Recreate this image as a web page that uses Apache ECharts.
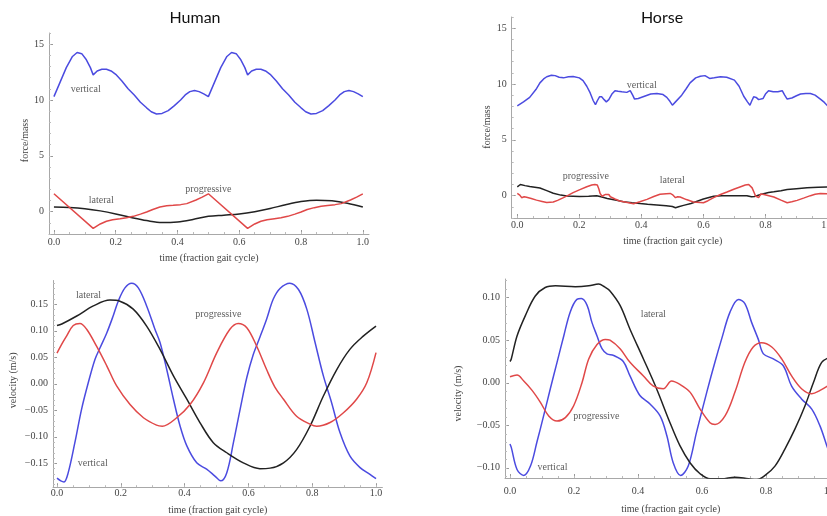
<!DOCTYPE html>
<html><head><meta charset="utf-8">
<script src="https://cdn.jsdelivr.net/npm/echarts@6/dist/echarts.min.js"></script>
<style>html,body{margin:0;padding:0;background:#fff}#c{width:827px;height:516px}</style>
</head><body><div id="c"></div>
<script>
// ---------- DATA (time fraction, value) ----------
const humanForceVertical = [[0,10.3],[0.02,11.6],[0.04,12.9],[0.06,13.9],[0.075,14.25],[0.09,14.15],[0.105,13.6],[0.118,12.9],[0.127,12.25],[0.14,12.6],[0.155,12.75],[0.17,12.75],[0.185,12.6],[0.2,12.3],[0.22,11.7],[0.24,11.0],[0.26,10.45],[0.28,9.8],[0.3,9.3],[0.315,8.95],[0.332,8.75],[0.35,8.8],[0.37,9.05],[0.39,9.5],[0.41,10.0],[0.425,10.45],[0.44,10.75],[0.455,10.85],[0.47,10.75],[0.485,10.55],[0.5,10.3],[0.52,11.6],[0.54,12.9],[0.56,13.9],[0.575,14.25],[0.59,14.15],[0.605,13.6],[0.618,12.9],[0.627,12.25],[0.64,12.6],[0.655,12.75],[0.67,12.75],[0.685,12.6],[0.7,12.3],[0.72,11.7],[0.74,11.0],[0.76,10.45],[0.78,9.8],[0.8,9.3],[0.815,8.95],[0.832,8.75],[0.85,8.8],[0.87,9.05],[0.89,9.5],[0.91,10.0],[0.925,10.45],[0.94,10.75],[0.955,10.85],[0.97,10.75],[0.985,10.55],[1.0,10.3]];
const humanForceLateral = [[0,0.42],[0.05,0.38],[0.1,0.27],[0.15,0.07],[0.2,-0.2],[0.25,-0.52],[0.3,-0.8],[0.35,-0.98],[0.4,-0.92],[0.45,-0.7],[0.5,-0.42],[0.55,-0.31],[0.6,-0.2],[0.65,0.0],[0.7,0.28],[0.75,0.62],[0.8,0.9],[0.85,1.03],[0.9,0.97],[0.95,0.75],[1.0,0.42]];
const humanForceProgressive = [[0,1.6],[0.127,-1.5],[0.15,-1.1],[0.17,-0.86],[0.19,-0.72],[0.214,-0.63],[0.235,-0.55],[0.257,-0.42],[0.28,-0.22],[0.3,-0.03],[0.32,0.2],[0.343,0.42],[0.365,0.52],[0.386,0.57],[0.41,0.63],[0.43,0.72],[0.46,1.05],[0.48,1.3],[0.5,1.6],[0.627,-1.5],[0.65,-1.1],[0.67,-0.86],[0.69,-0.72],[0.714,-0.63],[0.735,-0.55],[0.757,-0.42],[0.78,-0.22],[0.8,-0.03],[0.82,0.2],[0.843,0.36],[0.865,0.48],[0.886,0.56],[0.91,0.63],[0.93,0.72],[0.96,1.05],[0.98,1.3],[1.0,1.6]];

const horseForceVertical = [[0,8.05],[0.02,8.4],[0.04,8.8],[0.06,9.5],[0.073,10.1],[0.085,10.45],[0.095,10.65],[0.11,10.78],[0.122,10.75],[0.135,10.6],[0.149,10.55],[0.165,10.65],[0.18,10.68],[0.2,10.55],[0.212,10.3],[0.224,9.8],[0.235,9.2],[0.245,8.5],[0.252,8.15],[0.258,8.5],[0.265,8.85],[0.272,8.85],[0.28,8.6],[0.287,8.4],[0.295,8.6],[0.305,9.1],[0.315,9.4],[0.325,9.35],[0.337,9.3],[0.353,9.25],[0.364,9.4],[0.372,9.0],[0.378,8.65],[0.39,8.7],[0.41,8.9],[0.43,9.1],[0.45,9.15],[0.47,9.05],[0.482,8.8],[0.492,8.45],[0.5,8.1],[0.51,8.4],[0.53,9.0],[0.545,9.6],[0.557,10.1],[0.575,10.55],[0.59,10.7],[0.605,10.75],[0.62,10.5],[0.635,10.55],[0.655,10.65],[0.675,10.6],[0.7,10.35],[0.715,9.8],[0.73,8.9],[0.742,8.4],[0.75,8.1],[0.756,8.5],[0.762,8.85],[0.77,8.8],[0.778,8.6],[0.784,8.45],[0.792,8.7],[0.8,9.1],[0.81,9.4],[0.825,9.3],[0.84,9.3],[0.854,9.4],[0.862,9.0],[0.87,8.65],[0.885,8.75],[0.9,8.95],[0.913,9.1],[0.93,9.15],[0.945,9.15],[0.96,9.0],[0.977,8.65],[0.99,8.35],[1.0,8.05]];
const horseForceLateral = [[0,0.78],[0.01,1.0],[0.025,0.9],[0.04,0.82],[0.073,0.68],[0.095,0.45],[0.116,0.22],[0.14,0.05],[0.16,-0.03],[0.2,-0.08],[0.23,-0.05],[0.256,0.0],[0.27,-0.1],[0.29,-0.25],[0.32,-0.42],[0.342,-0.55],[0.37,-0.63],[0.396,-0.7],[0.42,-0.76],[0.45,-0.83],[0.48,-0.9],[0.5,-0.97],[0.51,-1.08],[0.52,-1.0],[0.536,-0.87],[0.56,-0.7],[0.58,-0.5],[0.6,-0.3],[0.633,-0.05],[0.66,0.0],[0.7,0.0],[0.74,0.0],[0.755,-0.1],[0.765,-0.08],[0.784,0.1],[0.81,0.28],[0.827,0.35],[0.85,0.45],[0.87,0.55],[0.9,0.63],[0.934,0.7],[0.97,0.75],[1.0,0.78]];
const horseForceProgressive = [[0,0.2],[0.008,0.05],[0.014,-0.18],[0.022,-0.1],[0.03,-0.15],[0.045,-0.25],[0.062,-0.4],[0.08,-0.52],[0.095,-0.62],[0.116,-0.57],[0.13,-0.42],[0.149,-0.18],[0.165,0.05],[0.18,0.27],[0.2,0.52],[0.224,0.8],[0.24,0.95],[0.25,1.0],[0.258,0.95],[0.263,0.6],[0.267,0.2],[0.273,-0.05],[0.278,-0.2],[0.283,0.1],[0.288,0.27],[0.295,0.1],[0.3,-0.1],[0.315,-0.3],[0.33,-0.48],[0.355,-0.62],[0.375,-0.72],[0.395,-0.55],[0.418,-0.33],[0.44,-0.08],[0.46,0.12],[0.48,0.18],[0.493,0.2],[0.5,0.1],[0.504,-0.03],[0.51,-0.18],[0.517,-0.1],[0.525,-0.12],[0.545,-0.35],[0.568,-0.57],[0.6,-0.63],[0.615,-0.45],[0.633,-0.18],[0.655,0.1],[0.676,0.33],[0.7,0.6],[0.72,0.8],[0.735,0.95],[0.746,1.0],[0.752,0.9],[0.757,0.7],[0.763,0.3],[0.768,-0.03],[0.773,-0.15],[0.778,-0.18],[0.785,0.15],[0.79,0.27],[0.795,0.1],[0.8,-0.05],[0.827,-0.12],[0.85,-0.4],[0.87,-0.63],[0.885,-0.55],[0.902,-0.42],[0.925,-0.2],[0.945,0.0],[0.96,0.12],[0.977,0.2],[1.0,0.18]];

const humanVelVertical = [[0,-0.178],[0.012,-0.183],[0.022,-0.185],[0.035,-0.168],[0.056,-0.111],[0.077,-0.048],[0.098,0.002],[0.119,0.046],[0.135,0.068],[0.156,0.096],[0.176,0.128],[0.192,0.156],[0.213,0.181],[0.234,0.19],[0.255,0.181],[0.281,0.147],[0.307,0.103],[0.323,0.078],[0.344,0.027],[0.365,-0.029],[0.386,-0.08],[0.407,-0.117],[0.438,-0.149],[0.469,-0.161],[0.495,-0.174],[0.513,-0.183],[0.532,-0.168],[0.553,-0.111],[0.574,-0.048],[0.595,0.012],[0.615,0.055],[0.636,0.088],[0.657,0.122],[0.678,0.16],[0.699,0.18],[0.73,0.19],[0.757,0.178],[0.783,0.141],[0.809,0.078],[0.835,0.015],[0.861,-0.036],[0.887,-0.092],[0.918,-0.136],[0.95,-0.158],[0.981,-0.171],[1.0,-0.179]];
const humanVelLateral = [[0,0.11],[0.015,0.113],[0.062,0.128],[0.114,0.147],[0.166,0.158],[0.197,0.156],[0.239,0.141],[0.281,0.109],[0.323,0.065],[0.365,0.015],[0.407,-0.029],[0.448,-0.073],[0.49,-0.111],[0.532,-0.13],[0.584,-0.149],[0.636,-0.16],[0.668,-0.159],[0.71,-0.149],[0.751,-0.124],[0.793,-0.08],[0.835,-0.023],[0.877,0.027],[0.918,0.065],[0.96,0.09],[1.0,0.109]];
const humanVelProgressive = [[0,0.058],[0.015,0.075],[0.03,0.09],[0.051,0.11],[0.072,0.114],[0.093,0.103],[0.124,0.071],[0.156,0.034],[0.187,-0.004],[0.229,-0.039],[0.271,-0.064],[0.312,-0.078],[0.33,-0.08],[0.375,-0.064],[0.417,-0.039],[0.459,0.002],[0.501,0.059],[0.542,0.103],[0.568,0.114],[0.595,0.106],[0.626,0.071],[0.657,0.027],[0.683,-0.006],[0.71,-0.029],[0.751,-0.061],[0.793,-0.076],[0.814,-0.08],[0.856,-0.073],[0.897,-0.055],[0.939,-0.029],[0.971,0.002],[1.0,0.059]];

const horseVelVertical = [[0,-0.072],[0.004,-0.076],[0.022,-0.102],[0.043,-0.109],[0.064,-0.098],[0.084,-0.07],[0.105,-0.039],[0.126,-0.007],[0.147,0.024],[0.168,0.055],[0.188,0.083],[0.209,0.098],[0.223,0.099],[0.241,0.091],[0.256,0.071],[0.272,0.055],[0.2875,0.04],[0.303,0.034],[0.324,0.032],[0.354,0.025],[0.375,0.008],[0.406,-0.015],[0.4375,-0.025],[0.469,-0.039],[0.49,-0.062],[0.51,-0.094],[0.533,-0.109],[0.557,-0.098],[0.583,-0.058],[0.615,-0.011],[0.641,0.025],[0.661,0.051],[0.6875,0.083],[0.714,0.098],[0.734,0.093],[0.755,0.071],[0.776,0.051],[0.792,0.034],[0.823,0.028],[0.854,0.02],[0.88,-0.004],[0.911,-0.019],[0.943,-0.031],[0.969,-0.051],[0.99,-0.074],[1.0,-0.085]];
const horseVelLateral = [[0,0.025],[0.004,0.028],[0.022,0.055],[0.048,0.079],[0.079,0.102],[0.11,0.112],[0.142,0.114],[0.204,0.113],[0.246,0.114],[0.277,0.116],[0.295,0.113],[0.3125,0.108],[0.344,0.091],[0.375,0.063],[0.417,0.028],[0.458,-0.007],[0.5,-0.047],[0.531,-0.074],[0.5625,-0.094],[0.594,-0.107],[0.625,-0.113],[0.661,-0.113],[0.703,-0.111],[0.745,-0.113],[0.771,-0.114],[0.797,-0.109],[0.828,-0.098],[0.859,-0.078],[0.891,-0.054],[0.922,-0.027],[0.948,0.0],[0.974,0.024],[1.0,0.03]];
const horseVelProgressive = [[0,0.007],[0.022,0.009],[0.043,0.002],[0.069,-0.009],[0.095,-0.023],[0.121,-0.039],[0.147,-0.045],[0.173,-0.041],[0.199,-0.027],[0.225,0.0],[0.246,0.028],[0.272,0.045],[0.298,0.051],[0.3125,0.05],[0.344,0.04],[0.375,0.024],[0.417,0.008],[0.448,-0.004],[0.479,-0.007],[0.505,0.002],[0.531,-0.002],[0.5625,-0.011],[0.594,-0.031],[0.625,-0.047],[0.641,-0.049],[0.672,-0.039],[0.703,-0.011],[0.734,0.024],[0.76,0.042],[0.786,0.047],[0.818,0.042],[0.849,0.028],[0.88,0.008],[0.911,-0.007],[0.943,-0.013],[0.969,-0.009],[1.0,-0.002]];

// tick labels
const xTicks = [0, 0.2, 0.4, 0.6, 0.8, 1.0];
const forceTicks = [0, 5, 10, 15];
const humanVelTicks = [-0.15, -0.10, -0.05, 0, 0.05, 0.10, 0.15];
const horseVelTicks = [-0.10, -0.05, 0, 0.05, 0.10];
const titles = ['Human', 'Horse'];
// annotations: [panel, time, value, text]
const annotations = [
  [0, 0.103, 10.96, 'vertical'], [0, 0.153, 1.0, 'lateral'], [0, 0.5, 1.96, 'progressive'],
  [1, 0.401, 9.91, 'vertical'], [1, 0.221, 1.76, 'progressive'], [1, 0.4995, 1.40, 'lateral'],
  [2, 0.099, 0.166, 'lateral'], [2, 0.506, 0.131, 'progressive'], [2, 0.112, -0.150, 'vertical'],
  [3, 0.448, 0.080, 'lateral'], [3, 0.270, -0.040, 'progressive'], [3, 0.133, -0.100, 'vertical']
];

// ---------- LAYOUT ----------
const SERIF = 'Liberation Serif';
const BLUE = '#4b4be0', RED = '#e04848', BLACK = '#222';
const panels = [
  {grid:{left:49, top:33, width:320, height:201}, x:[-0.016,1.02], y:[-2,16], yTicks:forceTicks, yMinor:1, yName:'force/mass', yGap:17, yPad:[0,14,0,0], xGap:19, xMargin:3, fmt:v=>String(v),
   series:[[humanForceVertical,BLUE,false],[humanForceLateral,BLACK,true],[humanForceProgressive,RED,false]]},
  {grid:{left:511.7, top:17, width:322, height:201}, x:[-0.018,1.02], y:[-2,16], yTicks:forceTicks, yMinor:1, yName:'force/mass', yGap:16, yPad:[0,19,0,0], xGap:18, xMargin:2, fmt:v=>String(v),
   series:[[horseForceVertical,BLUE,false],[horseForceLateral,BLACK,false],[horseForceProgressive,RED,false]]},
  {grid:{left:53, top:280.5, width:329.4, height:206.7}, x:[-0.0125,1.02], y:[-0.195,0.195], yTicks:humanVelTicks, yMinor:0.01, yName:'velocity (m/s)', yGap:35, yPad:[0,0,0,7], xGap:18, xMargin:1, fmt:v=>(v<-1e-9?'\u2212':'')+Math.abs(v).toFixed(2),
   series:[[humanVelVertical,BLUE,true],[humanVelLateral,BLACK,true],[humanVelProgressive,RED,true]]},
  {grid:{left:505, top:279, width:331.4, height:199}, x:[-0.0156,1.02], y:[-0.112,0.122], yTicks:horseVelTicks, yMinor:0.01, yName:'velocity (m/s)', yGap:42, yPad:[0,30,0,0], xGap:26, xMargin:8, fmt:v=>(v<-1e-9?'\u2212':'')+Math.abs(v).toFixed(2),
   series:[[horseVelVertical,BLUE,true],[horseVelLateral,BLACK,true],[horseVelProgressive,RED,true]]}
];

function minorVals(min, max, step){
  const out=[]; const s=Math.ceil(min/step-1e-9);
  for(let i=s; i*step<=max+1e-9; i++){ out.push(+(i*step).toFixed(6)); }
  return out;
}

const grids=[], xAxes=[], yAxes=[], series=[];
const axisColor='#a8a8a8', labelColor='#444';
panels.forEach((p,gi)=>{
  grids.push(Object.assign({outerBoundsMode:'none', containLabel:false}, p.grid));
  xAxes.push({type:'value', gridIndex:gi, min:p.x[0], max:p.x[1], position:'bottom',
    name:'time (fraction gait cycle)', nameLocation:'middle', nameGap:p.xGap,
    nameTextStyle:{fontFamily:SERIF, fontSize:10, color:labelColor},
    axisLine:{show:true, onZero:false, lineStyle:{color:axisColor, width:1}},
    axisTick:{show:true, inside:true, length:4, customValues:xTicks, lineStyle:{color:'#999'}},
    axisLabel:{customValues:xTicks, formatter:v=>v.toFixed(1), fontFamily:SERIF, fontSize:10, color:labelColor, margin:p.xMargin},
    splitLine:{show:false}});
  xAxes.push({type:'value', gridIndex:gi, min:p.x[0], max:p.x[1], position:'bottom',
    axisLine:{show:false, onZero:false}, axisLabel:{show:false}, splitLine:{show:false},
    axisTick:{show:true, inside:true, length:2, customValues:minorVals(0,1,0.05), lineStyle:{color:'#bbb'}}});
  yAxes.push({type:'value', gridIndex:gi, min:p.y[0], max:p.y[1], position:'left',
    name:p.yName, nameLocation:'middle', nameGap:p.yGap, nameRotate:90,
    nameTextStyle:{fontFamily:SERIF, fontSize:10, color:labelColor, padding:p.yPad},
    axisLine:{show:true, onZero:false, lineStyle:{color:axisColor, width:1}},
    axisTick:{show:true, inside:true, length:4, customValues:p.yTicks, lineStyle:{color:'#999'}},
    axisLabel:{customValues:p.yTicks, formatter:p.fmt, fontFamily:SERIF, fontSize:10, color:labelColor, margin:5},
    splitLine:{show:false}});
  yAxes.push({type:'value', gridIndex:gi, min:p.y[0], max:p.y[1], position:'left',
    axisLine:{show:false, onZero:false}, axisLabel:{show:false}, splitLine:{show:false},
    axisTick:{show:true, inside:true, length:2, customValues:minorVals(p.y[0],p.y[1],p.yMinor), lineStyle:{color:'#bbb'}}});
  p.series.forEach(([data,color,smooth])=>{
    series.push({type:'line', xAxisIndex:gi*2, yAxisIndex:gi*2, data:data, smooth:smooth?0.35:false,
      showSymbol:false, symbol:'none', lineStyle:{color:color, width:1.5}, silent:true, z:3});
  });
});
annotations.forEach(([gi,t,v,text])=>{
  series.push({type:'scatter', xAxisIndex:gi*2, yAxisIndex:gi*2, data:[[t,v]], symbolSize:0, silent:true, z:5,
    label:{show:true, position:'inside', formatter:text, fontFamily:SERIF, fontSize:10, color:'#333'}});
});

const chart = echarts.init(document.getElementById('c'), null, {renderer:'canvas'});
chart.setOption({
  animation:false, backgroundColor:'#fff',
  grid:grids, xAxis:xAxes, yAxis:yAxes, series:series,
  graphic:[
    {type:'text', x:195, y:10, style:{text:titles[0], font:'16px Lato', fill:'#111', align:'center'}},
    {type:'text', x:662, y:10, style:{text:titles[1], font:'16px Lato', fill:'#111', align:'center'}}
  ]
});
</script></body></html>
